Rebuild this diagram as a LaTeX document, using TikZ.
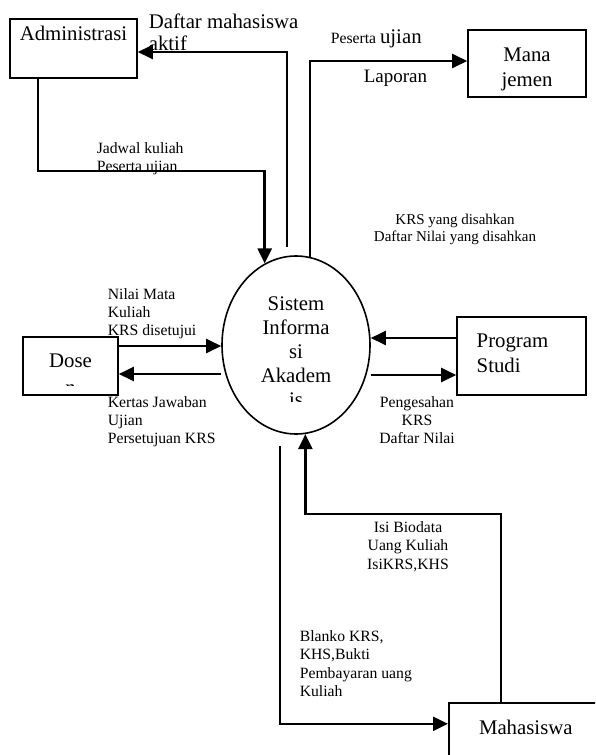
\documentclass[tikz,border=0pt]{standalone}
\usepackage{fontspec}
\setmainfont{Liberation Serif}
\usetikzlibrary{arrows.meta, shapes.geometric}

\begin{document}
\begin{tikzpicture}[
		x=1pt, y=-1pt,
		line width=1.6pt,
		big/.style={font=\fontsize{20.8}{25}\selectfont},
		box/.style={draw, inner sep=0pt, big},
		flow/.style={line width=2.4pt, -{Triangle[length=15pt, width=14pt]}},
		lbl/.style={inner sep=0pt, anchor=north west, align=left, font=\fontsize{15.7}{18.4}\selectfont}
	]
	\clip (0,0) rectangle (595,755);

	\node[box, minimum width=127pt, minimum height=59pt, text height=14pt, text depth=31pt] (adm) at (73.5,48.5) {Administrasi};
	\node[box, minimum width=118pt, minimum height=67pt, label={[big, align=center, inner sep=0pt, yshift=-6pt]center:{Mana\\jemen}}] (man) at (527,63.5) {};
	\node[draw, ellipse, minimum width=148pt, minimum height=178pt] (sia) at (296,345) {};
	\node[box, minimum width=95pt, minimum height=58pt] (dosen) at (70.5,366) {};
	\node[box, minimum width=129pt, minimum height=78pt, label={[big, align=left, inner sep=0pt, xshift=-9pt, yshift=3pt]center:{Program\\Studi}}] (prodi) at (521.5,356) {};
	\node[box, anchor=north west, minimum width=154pt, minimum height=60pt, text height=14pt, text depth=10pt] (mhs) at (448,702) {Mahasiswa};

	\begin{scope}
		\clip (dosen.north west) rectangle ([yshift=10pt]dosen.south east);
		\node[font=\fontsize{20.8}{27.5}\selectfont, align=center, inner sep=0pt] (dosentext) at ([yshift=-8pt]dosen.center) {Dose\\n};
	\end{scope}
	\begin{scope}
		\clip (222,250) rectangle (372,401);
		\node[font=\fontsize{20.8}{24}\selectfont, align=center, inner sep=0pt] (siatext) at ([yshift=-6.5pt]sia.center) {Sistem\\Informa\\si\\Akadem\\is};
	\end{scope}

	\coordinate (d1) at ([yshift=20pt]dosen.east);
	\coordinate (d2) at ([yshift=-8pt]dosen.east);
	\coordinate (p1) at ([yshift=18pt]prodi.west);
	\coordinate (p2) at ([yshift=-19pt]prodi.west);

	\draw[flow] ([xshift=-35.5pt]adm.south) -- ++(0,92) -| (sia.111);
	\draw[flow] ([shift={(-9pt,8pt)}]sia.north) |- ([yshift=-3.5pt]adm.east);
	\draw[flow] (sia.81) |- ([yshift=2.5pt]man.west);
	\draw[flow] (d1) -- (d1 -| sia.west);
	\draw[flow] (d2 -| sia.west) -- (d2);
	\draw[flow] (p1) -- (p1 -| sia.east);
	\draw[flow] (p2 -| sia.east) -- (p2);
	\draw[flow] ([shift={(-16pt,-11pt)}]sia.south) |- ([yshift=9pt]mhs.west);
	\draw[flow] ([xshift=-25pt]mhs.north) -- ++(0,-188) -| (sia.276);

	\node[lbl, font=\fontsize{20.8}{22}\selectfont] (ldaftar) at (148,13) {Daftar mahasiswa\\aktif};
	\node[lbl] (ljadwal) at (96,141.5) {Jadwal kuliah\\Peserta ujian};
	\node[anchor=base west, inner sep=0pt] (lpeserta) at (330,43) {\fontsize{15.7}{18}\selectfont Peserta \fontsize{20.8}{24}\selectfont ujian};
	\node[anchor=base west, inner sep=0pt, font=\fontsize{19}{22}\selectfont] (llaporan) at (363,82) {Laporan};
	\node[lbl, anchor=north, align=center, font=\fontsize{15}{17}\selectfont] (lkrs) at (455,213.5) {KRS yang disahkan\\Daftar Nilai yang disahkan};
	\node[lbl] (lnilai) at (107,287.5) {Nilai Mata\\Kuliah\\KRS disetujui};
	\node[lbl] (lkertas) at (107,395.5) {Kertas Jawaban\\Ujian\\Persetujuan KRS};
	\node[lbl, anchor=north, align=center] (lpengesahan) at (417,395.5) {Pengesahan\\KRS\\Daftar Nilai};
	\node[lbl, anchor=north, align=center] (lbiodata) at (408,520.5) {Isi Biodata\\Uang Kuliah\\IsiKRS,KHS};
	\node[lbl] (lblanko) at (299,629.5) {Blanko KRS,\\KHS,Bukti\\Pembayaran uang\\Kuliah};
\end{tikzpicture}
\end{document}
